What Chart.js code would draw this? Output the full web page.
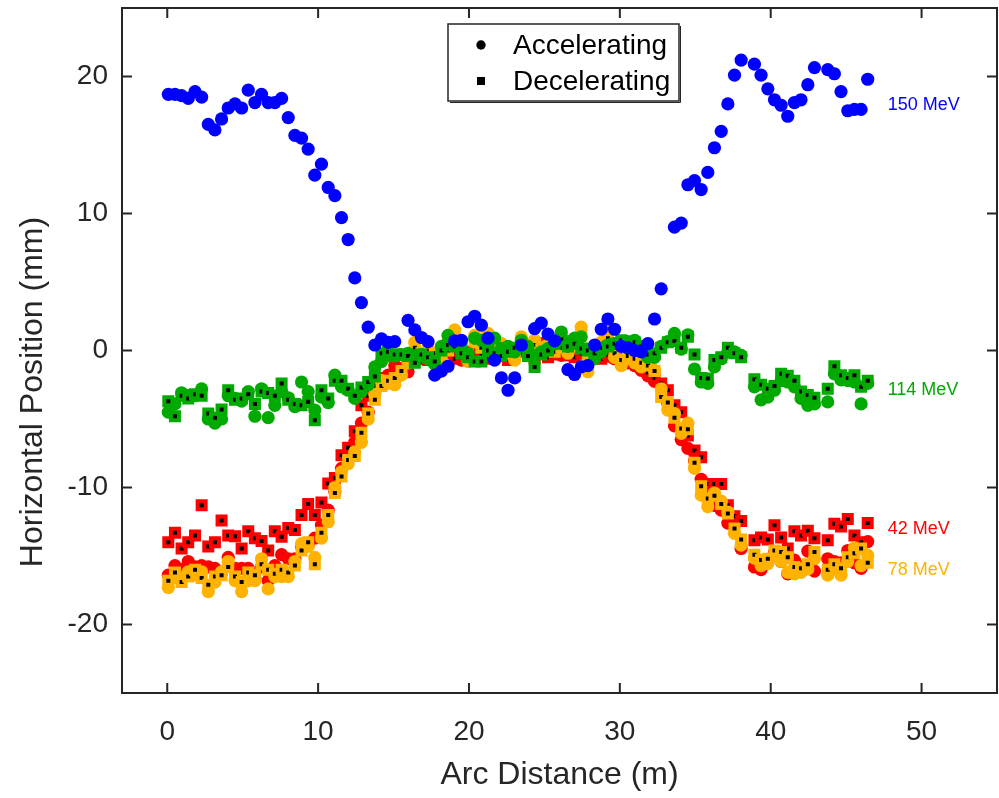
<!DOCTYPE html>
<html>
<head>
<meta charset="utf-8">
<script src="https://cdn.jsdelivr.net/npm/chart.js@4.4.1/dist/chart.umd.min.js"></script>
<style>
  html, body { margin: 0; padding: 0; background: #fff; }
  #wrap { width: 999px; height: 798px; }
</style>
</head>
<body>
<div id="wrap"><canvas id="grafico" width="999" height="798"></canvas></div>
<script>
// posicoes dos BPMs ao longo do arco (m)
const arcDistance = [
  0.07, 0.51, 0.95, 1.39, 1.84, 2.28, 2.72, 3.16, 3.60, 4.04,
  4.49, 4.93, 5.37, 5.81, 6.25, 6.69, 7.13, 7.58, 8.02, 8.46,
  8.90, 9.34, 9.78, 10.22, 10.67, 11.11, 11.55, 11.99, 12.43, 12.87,
  13.32, 13.76, 14.20, 14.64, 15.08, 15.52, 15.96, 16.41, 16.85, 17.29,
  17.73, 18.17, 18.61, 19.05, 19.50, 19.94, 20.38, 20.82, 21.26, 21.70,
  22.15, 22.59, 23.03, 23.47, 23.91, 24.35, 24.79, 25.24, 25.68, 26.12,
  26.56, 27.00, 27.44, 27.88, 28.33, 28.77, 29.21, 29.65, 30.09, 30.53,
  30.98, 31.42, 31.86, 32.30, 32.74, 33.18, 33.62, 34.07, 34.51, 34.95,
  35.39, 35.83, 36.27, 36.72, 37.16, 37.60, 38.04, 38.48, 38.92, 39.36,
  39.81, 40.25, 40.69, 41.13, 41.57, 42.01, 42.46, 42.90, 43.34, 43.78,
  44.22, 44.66, 45.11, 45.55, 45.99, 46.43
];

const acc150 = [
  18.7, 18.7, 18.6, 18.4, 18.9, 18.5, 16.5, 16.1, 16.9, 17.7,
  18.0, 17.7, 19.0, 18.1, 18.7, 18.1, 18.1, 18.4, 17.0, 15.7,
  15.5, 14.7, 12.8, 13.6, 11.9, 11.3, 9.7, 8.1, 5.3, 3.5,
  1.7, 0.4, 0.85, 0.6, 0.65, null, 2.2, 1.5, 0.95, 0.65,
  -1.8, -1.5, -1.15, 0.7, 0.75, 2.1, 2.5, 1.85, 0.9, -0.7,
  -2.0, -2.9, -2.0, 0.4, null, 1.6, 2.0, 1.2, 0.7, null,
  -1.4, -1.75, -1.2, -1.1, 0.4, 1.55, 2.3, 1.55, 0.3, 0.2,
  0.0, -0.1, 0.5, 2.3, 4.5, null, 9.0, 9.3, 12.1, 12.4,
  11.75, 13.0, 14.8, 16.0, 18.0, 20.1, 21.2, null, 20.9, 20.1,
  19.1, 18.3, 17.9, 17.1, 18.1, 18.3, 19.4, 20.65, null, 20.5,
  20.2, 18.9, 17.5, 17.6, 17.6, 19.8
];

const acc114 = [
  -4.5, -3.9, -3.1, -3.3, -3.3, -2.8, -5.0, -5.3, -5.0, -3.3,
  -3.5, -3.7, -3.0, -4.8, -2.8, -4.9, -4.0, -3.0, -3.45, -4.1,
  -2.3, -3.0, -4.35, -3.4, -3.8, -1.8, -2.65, -2.9, -3.5, -3.0,
  -2.5, -1.2, -0.8, -0.4, -0.4, -0.3, -0.2, -0.4, -0.3, -0.6,
  -1.0, 0.3, 1.1, 0.4, 0.2, -0.2, 0.9, 0.75, 0.3, 0.9,
  0.15, 0.3, -0.1, 0.75, 0.3, -0.35, -0.1, 0.15, 0.5, 1.35,
  0.65, 0.9, 1.0, 0.1, -0.6, -0.1, 0.4, 0.5, 0.6, 0.65,
  0.75, 0.3, -0.5, -0.5, 0.3, 0.65, 1.25, 0.1, 1.15, -1.35,
  -2.3, -2.4, -1.2, -0.6, -0.1, -0.1, -0.35, null, -2.65, -3.6,
  -3.4, -2.9, -2.2, -2.3, -2.65, -3.5, -4.0, -3.9, null, -3.75,
  -1.7, -2.15, -2.2, -2.3, -3.9, -2.4
];

const dec114 = [
  -3.7, -4.8, -3.3, -3.5, -3.2, -3.3, -4.6, -4.9, -4.3, -2.9,
  -3.6, -3.5, -3.2, -3.9, -3.0, -3.1, -3.3, -2.4, -3.6, -3.9,
  -4.0, -3.75, -5.1, -2.9, -3.5, -2.2, -2.2, -2.8, -3.3, -2.7,
  -2.3, -1.9, -0.2, -0.1, -0.3, -0.3, -0.4, -0.9, -0.3, -0.5,
  -0.8, 0.0, 0.4, 0.3, -0.2, -0.5, -0.8, -0.8, 0.0, -0.2,
  -0.4, -0.1, 0.2, 0.3, -0.4, -1.2, -0.3, 0.0, 0.5, 0.8,
  0.3, 0.5, 0.15, 0.0, -0.2, 0.2, 0.3, 0.5, 0.75, 0.5,
  0.6, 0.3, -0.3, -0.2, 0.2, 0.6, 0.7, 0.2, 1.0, -0.3,
  -2.0, -2.05, -0.7, -0.5, 0.2, -0.2, -0.5, null, -2.1, -2.5,
  -2.8, -2.6, -1.7, -1.85, -2.2, -3.0, -3.25, -3.45, null, -2.8,
  -1.15, -1.8, -2.0, -1.8, -2.65, -2.2
];

const acc42 = [
  -16.4, -15.7, -16.0, -15.4, -15.8, -15.7, -15.8, -15.9, -16.2, -15.1,
  -15.9, -15.9, -15.9, -16.6, -15.8, -16.8, -15.7, -14.9, -15.2, -15.2,
  -14.3, -14.2, -13.7, -12.75, -11.65, -10.3, -8.6, -7.6, -6.7, -5.3,
  -4.5, -3.0, -2.4, -1.8, -1.1, -1.3, -1.55, -0.8, -0.6, -0.4,
  -0.35, -0.3, -0.1, 0.0, -0.7, -0.3, -0.1, 0.2, -0.2, -0.5,
  -0.3, 0.0, -0.2, 0.15, 0.3, 0.2, 0.5, 0.0, -0.2, -0.35,
  -0.1, -0.35, -0.2, -0.2, -0.1, -0.3, -0.4, -0.6, -0.45, -0.9,
  -1.1, -1.45, -1.85, -2.25, -2.6, -3.85, -5.5, -6.5, -7.15, -8.05,
  -9.4, -10.0, -11.3, -11.65, -12.6, -12.7, -14.45, null, -15.8, -16.0,
  -15.4, -14.75, -15.4, -16.3, -15.3, -15.8, -14.65, -16.1, null, -15.2,
  -15.4, -15.5, -14.6, -15.5, -15.9, -13.95
];

const dec42 = [
  -14.0, -13.3, -14.45, -14.0, -13.5, -11.3, -14.3, -14.0, -12.4, -13.5,
  -13.55, -14.45, -13.2, -13.7, -13.9, -14.6, -13.2, -13.6, -12.95, -13.1,
  -12.0, -11.2, -12.0, -11.1, -9.7, -9.3, -7.65, -7.1, -5.9, -4.0,
  -3.3, -2.6, -2.0, -2.0, -2.0, -1.4, -0.8, -0.6, -0.4, -0.7,
  -0.3, -0.5, -0.2, -0.6, -0.4, -0.1, -0.5, -0.3, -0.6, -0.2,
  -0.4, -0.7, -0.3, -0.1, -0.4, -0.6, -0.2, -0.5, -0.3, -0.1,
  -0.35, -0.5, -0.2, 0.0, -0.4, -0.6, -0.3, -0.5, -0.8, -0.7,
  -0.9, -1.2, -1.6, -2.0, -2.4, -2.9, -4.0, -4.5, -6.2, -7.3,
  -7.8, -9.75, -9.75, -9.75, -11.3, -12.1, -12.45, null, -13.85, -13.65,
  -13.8, -12.75, -13.65, -14.45, -13.2, -13.5, -13.15, -13.7, null, -13.85,
  -12.65, -12.85, -12.3, -13.5, -14.0, -12.6
];

const acc78 = [
  -17.3, -16.6, -16.6, -16.15, -16.4, -16.15, -17.6, -16.9, -16.15, -15.4,
  -16.8, -17.6, -16.8, -16.8, -15.2, -17.4, -16.5, -16.5, -16.5, -15.4,
  -14.1, -14.3, -15.1, -13.7, -12.5, -10.0, -8.85, -8.25, -7.4, -6.7,
  -5.0, -3.2, -2.2, -2.4, -2.5, -1.8, -0.9, 0.6, -0.3, 0.2,
  -0.5, -0.6, 0.3, 1.5, 0.5, -0.8, 1.1, 0.5, 1.25, -0.3,
  0.5, -0.2, -0.7, 1.0, 0.3, 0.75, 0.2, 0.4, 0.0, 0.3,
  -0.2, 0.5, 1.7, -1.55, 0.2, 0.6, 1.35, -0.5, -1.1, -0.6,
  -0.9, -1.2, -1.0, -1.45, -2.8, -4.35, -4.6, -6.05, -5.3, -8.6,
  -10.55, -11.4, -10.4, -11.0, -11.8, -13.35, -14.2, null, -15.15, -15.7,
  -15.55, -14.95, -15.4, -16.2, -16.3, -16.2, -15.95, -15.2, null, -16.4,
  -15.95, -16.4, -15.4, -14.4, -15.7, -14.95
];

const dec78 = [
  -16.8, -16.2, -16.9, -16.5, -16.0, -16.6, -17.1, -16.5, -16.4, -15.8,
  -16.5, -16.9, -16.2, -16.4, -15.6, -16.0, -16.3, -16.0, -16.2, -15.7,
  -14.6, -14.0, -15.6, -13.3, -12.0, -10.4, -9.2, -8.0, -7.7, -6.0,
  -4.6, -3.6, -2.6, -2.2, -2.0, -1.5, -0.7, 0.2, -0.2, 0.0,
  -0.2, 0.1, 0.0, 0.8, 0.3, -0.3, 0.6, 0.2, 0.7, 0.0,
  0.3, 0.0, -0.4, 0.6, 0.2, 0.4, 0.1, 0.3, -0.1, 0.2,
  0.0, 0.3, 1.1, -0.8, 0.1, 0.4, 0.9, -0.2, -0.7, -0.4,
  -0.6, -0.9, -1.1, -1.5, -3.4, -3.8, -4.9, -5.7, -5.75, -8.2,
  -9.9, -10.8, -10.6, -11.2, -11.9, -13.0, -13.8, null, -14.9, -15.3,
  -15.2, -14.6, -14.7, -15.1, -15.8, -15.9, -15.6, -14.7, null, -16.0,
  -15.6, -15.9, -15.1, -14.8, -14.45, -15.5
];

const xTicks = [0, 10, 20, 30, 40, 50];
const yTicks = [-20, -10, 0, 10, 20];
const energyLabels = ['150 MeV', '114 MeV', '42 MeV', '78 MeV'];
const legendLabels = ['Accelerating', 'Decelerating'];

const AZUL = '#0000ff';
const VERDE = '#00aa00';
const VERMELHO = '#ff0000';
const LARANJA = '#ffb200';
const TEXTO = '#262626';
const FONTE = '"Liberation Sans", Arial, Helvetica, sans-serif';

function pontos(ys) {
    return arcDistance
        .map((x, i) => ({ x: x, y: ys[i] }))
        .filter(p => p.y !== null);
}

function circulos(label, ys, cor, ordem) {
    return {
        label: label,
        data: pontos(ys),
        pointStyle: 'circle',
        pointRadius: 6.6,
        pointBorderWidth: 0,
        backgroundColor: cor,
        borderColor: cor,
        order: ordem
    };
}

function quadrados(label, ys, cor, ordem) {
    return {
        label: label,
        data: pontos(ys),
        pointStyle: 'rect',
        pointRadius: 5.66,
        pointBorderWidth: 4,
        backgroundColor: '#000000',
        borderColor: cor,
        order: ordem
    };
}

// rotulos de energia ao lado das curvas (coordenadas de dados)
const posRotulos = [
    { x: 47.75, y: 17.9, cor: AZUL },
    { x: 47.75, y: -2.9, cor: VERDE },
    { x: 47.75, y: -13.0, cor: VERMELHO },
    { x: 47.75, y: -16.05, cor: LARANJA }
];

const moldura = {
    id: 'moldura',
    afterDatasetsDraw(chart) {
        const { ctx, chartArea: a, scales: { x, y } } = chart;
        ctx.save();
        ctx.strokeStyle = TEXTO;
        ctx.lineWidth = 2;
        ctx.strokeRect(a.left, a.top, a.right - a.left, a.bottom - a.top);

        const tam = 10;
        ctx.beginPath();
        xTicks.forEach(v => {
            const px = x.getPixelForValue(v);
            ctx.moveTo(px, a.bottom); ctx.lineTo(px, a.bottom - tam);
            ctx.moveTo(px, a.top); ctx.lineTo(px, a.top + tam);
        });
        yTicks.forEach(v => {
            const py = y.getPixelForValue(v);
            ctx.moveTo(a.left, py); ctx.lineTo(a.left + tam, py);
            ctx.moveTo(a.right, py); ctx.lineTo(a.right - tam, py);
        });
        ctx.stroke();

        // titulo do eixo y (deslocado para baixo como no original)
        ctx.save();
        ctx.translate(33, 392);
        ctx.rotate(-Math.PI / 2);
        ctx.font = '32px ' + FONTE;
        ctx.fillStyle = TEXTO;
        ctx.textAlign = 'center';
        ctx.textBaseline = 'middle';
        ctx.fillText('Horizontal Position (mm)', 0, 0);
        ctx.restore();

        // rotulos das energias
        ctx.font = '18px ' + FONTE;
        ctx.textAlign = 'left';
        ctx.textBaseline = 'middle';
        posRotulos.forEach((r, i) => {
            ctx.fillStyle = r.cor;
            ctx.fillText(energyLabels[i], x.getPixelForValue(r.x), y.getPixelForValue(r.y));
        });

        // legenda
        const lx = 448, ly = 24, lw = 231, lh = 77;
        ctx.fillStyle = '#ffffff';
        ctx.fillRect(lx, ly, lw, lh);
        ctx.strokeStyle = '#262626';
        ctx.lineWidth = 1.5;
        ctx.strokeRect(lx, ly, lw, lh);
        ctx.lineWidth = 1;
        ctx.beginPath();
        ctx.moveTo(lx + 2, ly + lh + 1.5); ctx.lineTo(lx + lw + 1.5, ly + lh + 1.5);
        ctx.lineTo(lx + lw + 1.5, ly + 2);
        ctx.stroke();

        ctx.fillStyle = '#000000';
        ctx.beginPath();
        ctx.arc(481, 45, 4.7, 0, Math.PI * 2);
        ctx.fill();
        ctx.fillRect(477, 77, 8, 8);

        ctx.font = '28px ' + FONTE;
        ctx.fillStyle = '#000000';
        ctx.textBaseline = 'middle';
        ctx.fillText(legendLabels[0], 513, 46);
        ctx.fillText(legendLabels[1], 513, 82);
        ctx.restore();
    }
};

const ctx = document.getElementById('grafico');

new Chart(ctx, {
    type: 'scatter',
    data: {
        datasets: [
            circulos('150 MeV Accelerating', acc150, AZUL, 1),
            quadrados('114 MeV Decelerating', dec114, VERDE, 2),
            circulos('114 MeV Accelerating', acc114, VERDE, 3),
            quadrados('78 MeV Decelerating', dec78, LARANJA, 4),
            circulos('78 MeV Accelerating', acc78, LARANJA, 5),
            quadrados('42 MeV Decelerating', dec42, VERMELHO, 6),
            circulos('42 MeV Accelerating', acc42, VERMELHO, 7)
        ]
    },
    options: {
        responsive: false,
        animation: false,
        layout: {
            autoPadding: false,
            padding: { left: 0, right: 2, top: 8, bottom: 0 }
        },
        plugins: {
            legend: { display: false },
            tooltip: { enabled: false }
        },
        scales: {
            x: {
                type: 'linear',
                min: -3,
                max: 55,
                grid: { display: false, drawTicks: false },
                border: { display: false },
                afterBuildTicks: s => { s.ticks = xTicks.map(v => ({ value: v })); },
                afterFit: s => {
                    s.height = 105;
                    s.paddingLeft = 0;
                    s.paddingRight = 0;
                },
                ticks: {
                    color: TEXTO,
                    padding: 22,
                    font: { family: FONTE, size: 28 }
                },
                title: {
                    display: true,
                    text: 'Arc Distance (m)',
                    color: TEXTO,
                    padding: { top: 0, bottom: 4 },
                    font: { family: FONTE, size: 32 }
                }
            },
            y: {
                type: 'linear',
                min: -25,
                max: 25,
                grid: { display: false, drawTicks: false },
                border: { display: false },
                afterBuildTicks: s => { s.ticks = yTicks.map(v => ({ value: v })); },
                afterFit: s => {
                    s.width = 122;
                    s.paddingTop = 0;
                    s.paddingBottom = 0;
                },
                ticks: {
                    color: TEXTO,
                    padding: 14,
                    font: { family: FONTE, size: 28 }
                },
                title: { display: false }
            }
        }
    },
    plugins: [moldura]
});
</script>
</body>
</html>
